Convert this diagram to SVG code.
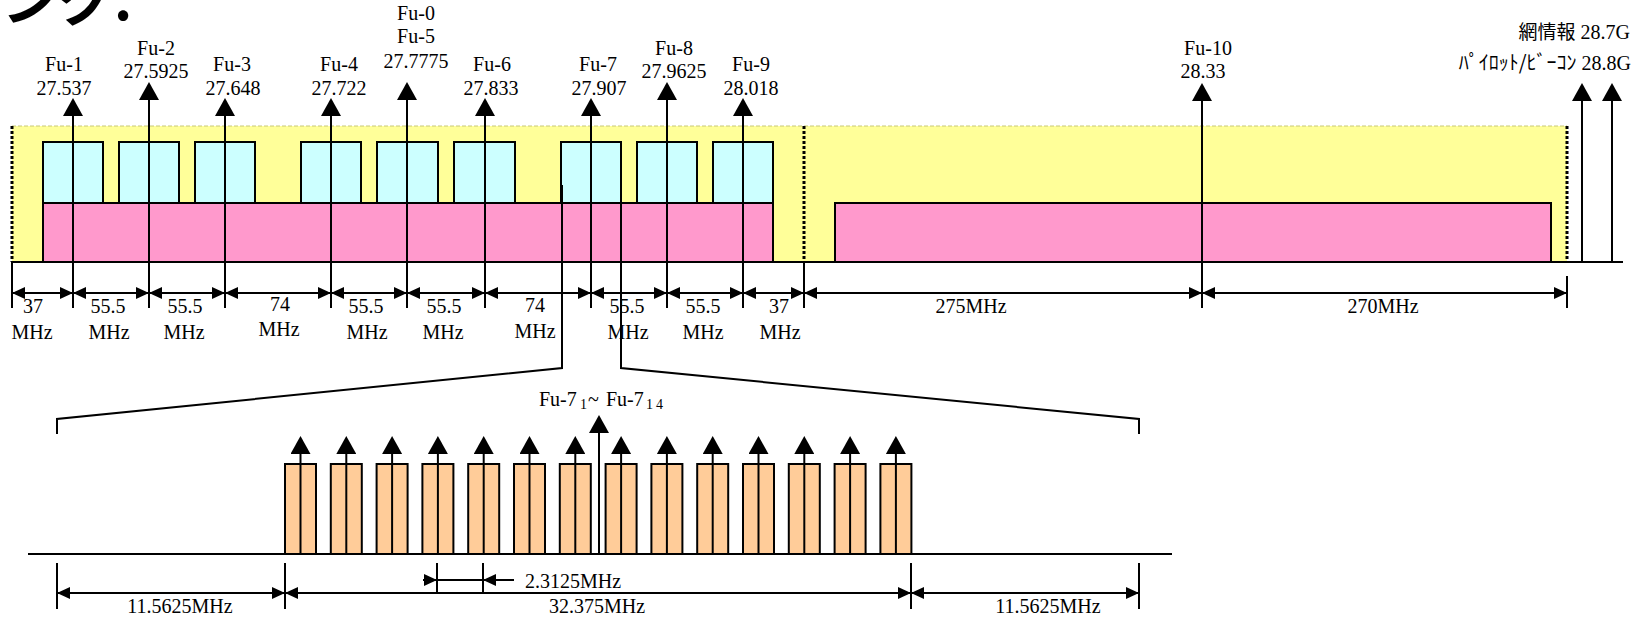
<svg xmlns="http://www.w3.org/2000/svg" width="1646" height="623" viewBox="0 0 1646 623">
<style>
text{font-family:"Liberation Serif","Times New Roman",serif;font-size:20px;fill:#000}
.c{text-anchor:middle}
.jp{font-family:"Noto Sans CJK JP","Noto Sans",sans-serif}
.ln{stroke:#000;stroke-width:2;fill:none}
.cy{fill:#CCFFFF;stroke:#000;stroke-width:2}
.pk{fill:#FF99CC;stroke:#000;stroke-width:2}
.or{fill:#FFCC99;stroke:#000;stroke-width:2}
.dotk{stroke:#000;stroke-width:3;stroke-dasharray:3 2;fill:none}
.ar{stroke:#000;stroke-width:2;fill:none;marker-end:url(#ah)}
.dm{stroke:#000;stroke-width:2;fill:none;marker-start:url(#dh);marker-end:url(#dh)}
</style>
<defs>
<marker id="ah" markerUnits="userSpaceOnUse" markerWidth="18" markerHeight="20" viewBox="0 0 18 20" refX="0" refY="10" orient="auto"><path d="M0,0 L18,10 L0,20 z" fill="#000"/></marker>
<marker id="dh" markerUnits="userSpaceOnUse" markerWidth="13" markerHeight="12" viewBox="0 0 13 12" refX="13" refY="6" orient="auto-start-reverse"><path d="M0,0 L13,6 L0,12 z" fill="#000"/></marker>
</defs>

<text x="2" y="20" class="jp" style="font-size:56px;font-weight:bold">ング.</text>

<g id="band">
<rect x="12" y="126" width="1555" height="136" fill="#FFFF99"/>
<line x1="12" y1="126" x2="1567" y2="126" stroke="#C8C878" stroke-width="1" stroke-dasharray="4 2"/>
<line x1="12" y1="126" x2="12" y2="262" class="dotk"/>
<line x1="804" y1="126" x2="804" y2="262" class="dotk"/>
<line x1="1567" y1="126" x2="1567" y2="262" class="dotk"/>
</g>

<g id="pink1"><rect x="43" y="203" width="730" height="59" class="pk"/></g>
<g id="pink2"><rect x="835" y="203" width="716" height="59" class="pk"/></g>

<g id="cyan">
<rect x="43" y="142" width="60" height="61" class="cy"/>
<rect x="119" y="142" width="60" height="61" class="cy"/>
<rect x="195" y="142" width="60" height="61" class="cy"/>
<rect x="301" y="142" width="60" height="61" class="cy"/>
<rect x="377" y="142" width="61" height="61" class="cy"/>
<rect x="454" y="142" width="61" height="61" class="cy"/>
<rect x="561" y="142" width="60" height="61" class="cy"/>
<rect x="637" y="142" width="60" height="61" class="cy"/>
<rect x="713" y="142" width="60" height="61" class="cy"/>
</g>

<line x1="12" y1="262" x2="1623" y2="262" class="ln"/>

<g id="carriers">
<line x1="73" y1="308" x2="73" y2="116" class="ar"/>
<line x1="149" y1="308" x2="149" y2="100" class="ar"/>
<line x1="225" y1="308" x2="225" y2="116" class="ar"/>
<line x1="331" y1="308" x2="331" y2="116" class="ar"/>
<line x1="407" y1="308" x2="407" y2="100" class="ar"/>
<line x1="485" y1="308" x2="485" y2="116" class="ar"/>
<line x1="591" y1="308" x2="591" y2="116" class="ar"/>
<line x1="667" y1="308" x2="667" y2="100" class="ar"/>
<line x1="743" y1="308" x2="743" y2="116" class="ar"/>
<line x1="1202" y1="308" x2="1202" y2="101" class="ar"/>
<line x1="1582" y1="262" x2="1582" y2="101" class="ar"/>
<line x1="1612" y1="262" x2="1612" y2="101" class="ar"/>
</g>

<g id="labels-top">
<text x="64" y="71" class="c">Fu-1</text><text x="64" y="95" class="c">27.537</text>
<text x="156" y="55" class="c">Fu-2</text><text x="156" y="78" class="c">27.5925</text>
<text x="232" y="71" class="c">Fu-3</text><text x="233" y="95" class="c">27.648</text>
<text x="339" y="71" class="c">Fu-4</text><text x="339" y="95" class="c">27.722</text>
<text x="416" y="20" class="c">Fu-0</text><text x="416" y="43" class="c">Fu-5</text><text x="416" y="68" class="c">27.7775</text>
<text x="492" y="71" class="c">Fu-6</text><text x="491" y="95" class="c">27.833</text>
<text x="598" y="71" class="c">Fu-7</text><text x="599" y="95" class="c">27.907</text>
<text x="674" y="55" class="c">Fu-8</text><text x="674" y="78" class="c">27.9625</text>
<text x="751" y="71" class="c">Fu-9</text><text x="751" y="95" class="c">28.018</text>
<text x="1208" y="55" class="c">Fu-10</text><text x="1203" y="78" class="c">28.33</text>
<text x="1630" y="39" text-anchor="end"><tspan class="jp" style="font-size:19px">網情報</tspan> 28.7G</text>
<text x="1631" y="70" text-anchor="end"><tspan class="jp" style="font-size:20px">ﾊﾟｲﾛｯﾄ/ﾋﾞｰｺﾝ</tspan> 28.8G</text>
</g>

<g id="dims-top">
<line x1="12" y1="262" x2="12" y2="308" class="ln"/>
<line x1="804" y1="262" x2="804" y2="308" class="ln"/>
<line x1="1567" y1="276" x2="1567" y2="308" class="ln"/>
<line x1="12" y1="293" x2="73" y2="293" class="dm"/>
<line x1="73" y1="293" x2="149" y2="293" class="dm"/>
<line x1="149" y1="293" x2="225" y2="293" class="dm"/>
<line x1="225" y1="293" x2="331" y2="293" class="dm"/>
<line x1="331" y1="293" x2="407" y2="293" class="dm"/>
<line x1="407" y1="293" x2="485" y2="293" class="dm"/>
<line x1="485" y1="293" x2="591" y2="293" class="dm"/>
<line x1="591" y1="293" x2="667" y2="293" class="dm"/>
<line x1="667" y1="293" x2="743" y2="293" class="dm"/>
<line x1="743" y1="293" x2="804" y2="293" class="dm"/>
<line x1="804" y1="293" x2="1202" y2="293" class="dm"/>
<line x1="1202" y1="293" x2="1567" y2="293" class="dm"/>
<text x="33" y="313" class="c">37</text><text x="32" y="339" class="c">MHz</text>
<text x="108" y="313" class="c">55.5</text><text x="109" y="339" class="c">MHz</text>
<text x="185" y="313" class="c">55.5</text><text x="184" y="339" class="c">MHz</text>
<text x="280" y="311" class="c">74</text><text x="279" y="336" class="c">MHz</text>
<text x="366" y="313" class="c">55.5</text><text x="367" y="339" class="c">MHz</text>
<text x="444" y="313" class="c">55.5</text><text x="443" y="339" class="c">MHz</text>
<text x="535" y="312" class="c">74</text><text x="535" y="338" class="c">MHz</text>
<text x="627" y="313" class="c">55.5</text><text x="628" y="339" class="c">MHz</text>
<text x="703" y="313" class="c">55.5</text><text x="703" y="339" class="c">MHz</text>
<text x="779" y="313" class="c">37</text><text x="780" y="339" class="c">MHz</text>
<text x="971" y="313" class="c">275MHz</text>
<text x="1383" y="313" class="c">270MHz</text>
</g>

<g id="zoom-lines">
<polyline points="562,185 562,368 57,419 57,434" class="ln"/>
<polyline points="621,185 621,368 1139,419 1139,434" class="ln"/>
</g>

<g id="subcarriers">
<line x1="28" y1="554" x2="1172" y2="554" class="ln"/>
<rect x="285" y="464" width="31" height="90" class="or"/>
<rect x="330.8" y="464" width="31" height="90" class="or"/>
<rect x="376.6" y="464" width="31" height="90" class="or"/>
<rect x="422.4" y="464" width="31" height="90" class="or"/>
<rect x="468.2" y="464" width="31" height="90" class="or"/>
<rect x="514" y="464" width="31" height="90" class="or"/>
<rect x="559.8" y="464" width="31" height="90" class="or"/>
<rect x="605.6" y="464" width="31" height="90" class="or"/>
<rect x="651.4" y="464" width="31" height="90" class="or"/>
<rect x="697.2" y="464" width="31" height="90" class="or"/>
<rect x="743" y="464" width="31" height="90" class="or"/>
<rect x="788.8" y="464" width="31" height="90" class="or"/>
<rect x="834.6" y="464" width="31" height="90" class="or"/>
<rect x="880.4" y="464" width="31" height="90" class="or"/>
<line x1="300.5" y1="554" x2="300.5" y2="454" class="ar"/>
<line x1="346.3" y1="554" x2="346.3" y2="454" class="ar"/>
<line x1="392.1" y1="554" x2="392.1" y2="454" class="ar"/>
<line x1="437.9" y1="554" x2="437.9" y2="454" class="ar"/>
<line x1="483.7" y1="554" x2="483.7" y2="454" class="ar"/>
<line x1="529.5" y1="554" x2="529.5" y2="454" class="ar"/>
<line x1="575.3" y1="554" x2="575.3" y2="454" class="ar"/>
<line x1="621.1" y1="554" x2="621.1" y2="454" class="ar"/>
<line x1="666.9" y1="554" x2="666.9" y2="454" class="ar"/>
<line x1="712.7" y1="554" x2="712.7" y2="454" class="ar"/>
<line x1="758.5" y1="554" x2="758.5" y2="454" class="ar"/>
<line x1="804.3" y1="554" x2="804.3" y2="454" class="ar"/>
<line x1="850.1" y1="554" x2="850.1" y2="454" class="ar"/>
<line x1="895.9" y1="554" x2="895.9" y2="454" class="ar"/>
<line x1="599" y1="554" x2="599" y2="433" class="ar"/>
<text x="539" y="406">Fu-7<tspan x="580" y="409" style="font-size:14px">1</tspan><tspan x="588" y="406">~</tspan><tspan x="606" y="406">Fu-7</tspan><tspan x="646" y="409" style="font-size:14px;letter-spacing:3px">14</tspan></text>
</g>

<g id="dims-bottom">
<line x1="57" y1="563" x2="57" y2="609" class="ln"/>
<line x1="285" y1="563" x2="285" y2="609" class="ln"/>
<line x1="911" y1="563" x2="911" y2="609" class="ln"/>
<line x1="1139" y1="563" x2="1139" y2="609" class="ln"/>
<line x1="57" y1="593" x2="285" y2="593" class="dm"/>
<line x1="285" y1="593" x2="911" y2="593" class="dm"/>
<line x1="911" y1="593" x2="1139" y2="593" class="dm"/>
<line x1="437" y1="563" x2="437" y2="593" class="ln"/>
<line x1="483" y1="563" x2="483" y2="593" class="ln"/>
<line x1="437" y1="580" x2="483" y2="580" class="ln"/>
<line x1="423" y1="580" x2="437" y2="580" stroke="#000" stroke-width="2" marker-end="url(#dh)"/>
<line x1="514" y1="580" x2="483" y2="580" stroke="#000" stroke-width="2" marker-end="url(#dh)"/>
<text x="525" y="588">2.3125MHz</text>
<text x="180" y="613" class="c">11.5625MHz</text>
<text x="597" y="613" class="c">32.375MHz</text>
<text x="1048" y="613" class="c">11.5625MHz</text>
</g>
</svg>
